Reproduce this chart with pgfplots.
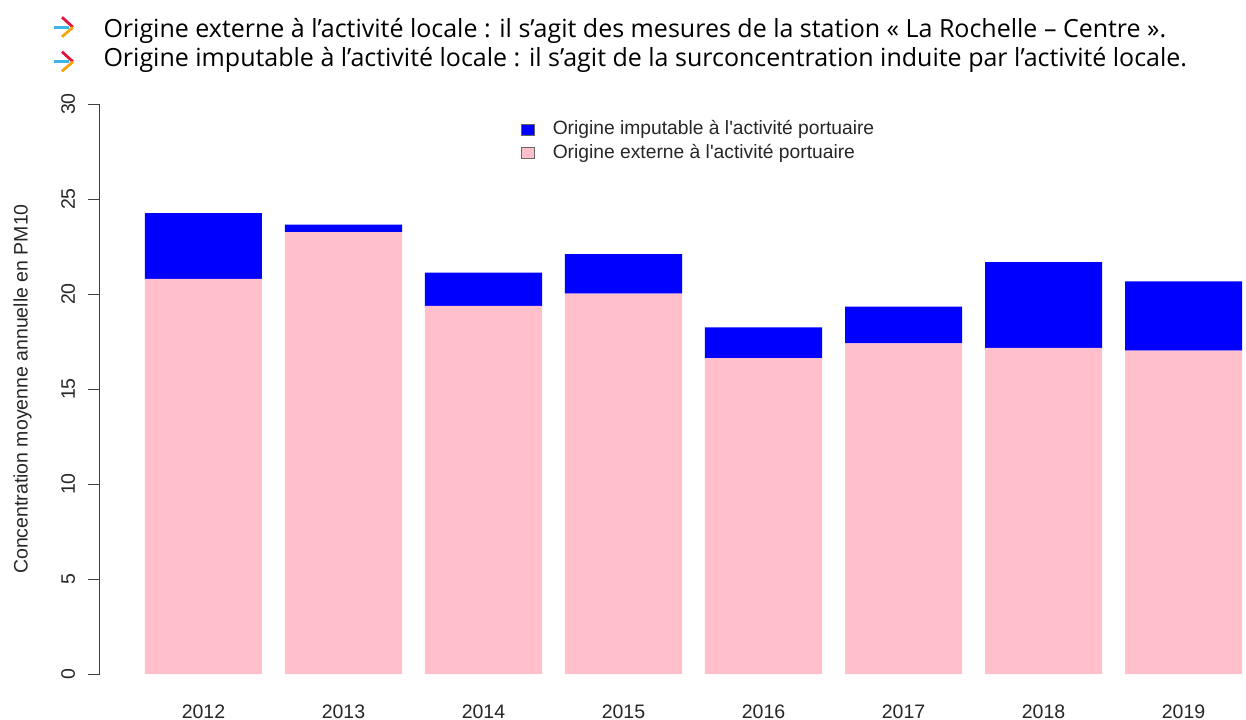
\documentclass[border=0pt]{standalone}
\usepackage{fontspec}
\setmainfont{Liberation Sans}
\newfontfamily\topfont{Open Sans}
\usepackage{pgfplots}
\usepackage{pgfplotstable}
\pgfplotsset{compat=1.18}
\definecolor{rblue}{HTML}{0000FF}
\definecolor{rpink}{HTML}{FFC0CB}
\definecolor{arrcyan}{HTML}{3FB5E5}
\definecolor{arrred}{HTML}{E2103D}
\definecolor{arrorange}{HTML}{F7A30A}

% x = position of the year (0 = 2012), externe / imputable in PM10
\pgfplotstableread{
x externe imputable
0 20.79 3.47
1 23.26 0.39
2 19.37 1.75
3 20.02 2.08
4 16.63 1.62
5 17.40 1.93
6 17.16 4.52
7 17.02 3.65
}\pmdata

\begin{document}
\begin{tikzpicture}
\useasboundingbox (-40pt,-18pt) rectangle (458.4pt,269.6pt);
\begin{axis}[
  at={(0,0)}, anchor=south west,
  scale only axis,
  width=458.4pt, height=228pt,
  ybar stacked,
  bar width=0.836,
  xmin=-0.739, xmax=7.446,
  ymin=0, ymax=30,
  axis lines=left,
  x axis line style={draw=none},
  y axis line style={-, draw=black!75},
  xtick={0,...,7},
  xticklabels={2012,2013,2014,2015,2016,2017,2018,2019},
  xtick style={draw=none},
  xticklabel style={font=\fontsize{7.8}{9}\selectfont, text=black!85, anchor=north, yshift=-4pt},
  ytick={0,5,...,30},
  ytick style={draw=black!75},
  tick align=outside,
  major tick length=4.8pt,
  yticklabel style={font=\fontsize{7.8}{9}\selectfont, text=black!85, rotate=90, anchor=south, yshift=1.6pt},
  /pgf/number format/assume math mode=true,
  ylabel={Concentration moyenne annuelle en PM10},
  ylabel style={font=\fontsize{7.8}{9}\selectfont, text=black!85, at={(axis description cs:-0.0675,0.5)}, anchor=center},
  reverse legend,
  legend style={at={(axis description cs:0.3665,0.9347)}, anchor=west, draw=none, fill=none,
    font=\fontsize{7.7}{9}\selectfont, text=black!85, inner sep=0pt,
    row sep=-1.9pt,
    /tikz/every odd column/.append style={column sep=5.2pt}},
  legend cell align=left,
  legend image code/.code={\draw[#1, draw=black!60, line width=0.3pt] (0pt,-2.3pt) rectangle (5.4pt,2.3pt);},
]
\addplot[fill=rpink, draw=none] table[x=x, y=externe] {\pmdata};
\addplot[fill=rblue, draw=none] table[x=x, y=imputable] {\pmdata};
\legend{Origine externe à l\textquotesingle activité portuaire, Origine imputable à l\textquotesingle activité portuaire}
\end{axis}
% bullets in front of the two header lines
\foreach \yy in {258.7, 244.9} {
  \draw[arrcyan, line width=1.1pt] (-18.4pt,\yy pt) -- (-12.4pt,\yy pt);
  \draw[arrred, line width=1.1pt] (-15.2pt,\yy pt+4pt) -- (-10.8pt,\yy pt);
  \draw[arrorange, line width=1.1pt] (-10.8pt,\yy pt) -- (-15.2pt,\yy pt-3.8pt);
}
\node[anchor=base west, inner sep=0pt, font=\topfont\fontsize{10}{12}\selectfont] at (1.2pt,254.6pt)
  {Origine externe à l’activité locale : il s’agit des mesures de la station « La Rochelle – Centre ».};
\node[anchor=base west, inner sep=0pt, font=\topfont\fontsize{10}{12}\selectfont] at (1.2pt,243.2pt)
  {Origine imputable à l’activité locale : il s’agit de la surconcentration induite par l’activité locale.};
\end{tikzpicture}
\end{document}
